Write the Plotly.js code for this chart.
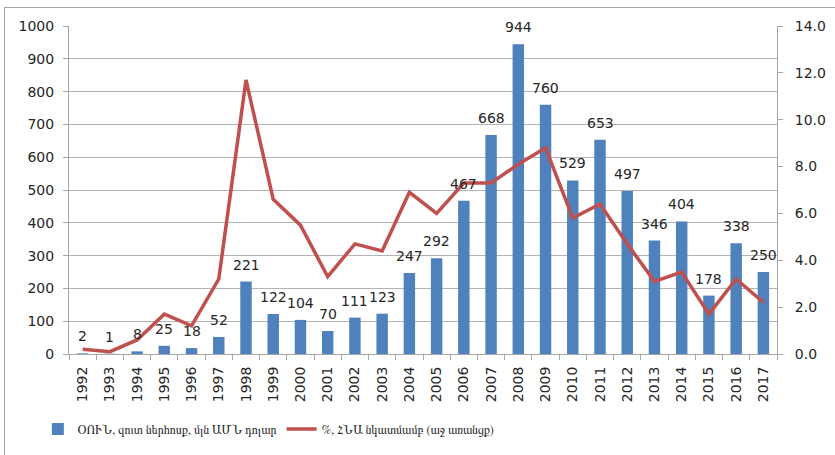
<!DOCTYPE html>
<html>
<head>
<meta charset="utf-8">
<script src="https://cdn.plot.ly/plotly-3.0.1.min.js"></script>
<style>
  html, body { margin: 0; padding: 0; background: #fff; }
  #wrap { position: relative; width: 835px; height: 455px; overflow: hidden; }
  #chart { position: absolute; left: 0; top: 0; width: 835px; height: 455px; }
  #frame { position: absolute; left: 4px; top: 7px; width: 900px; height: 500px;
           border-left: 1px solid #a6a6a6; border-top: 1px solid #a6a6a6; pointer-events: none; }
</style>
</head>
<body>
<div id="wrap">
  <div id="chart"></div>
  <div id="frame"></div>
</div>
<script>
const years = ["1992","1993","1994","1995","1996","1997","1998","1999","2000","2001","2002","2003","2004","2005","2006","2007","2008","2009","2010","2011","2012","2013","2014","2015","2016","2017"];
const fdiNet = [2, 1, 8, 25, 18, 52, 221, 122, 104, 70, 111, 123, 247, 292, 467, 668, 944, 760, 529, 653, 497, 346, 404, 178, 338, 250];
const fdiPctGdp = [0.2, 0.1, 0.6, 1.7, 1.2, 3.2, 11.7, 6.6, 5.5, 3.3, 4.7, 4.4, 6.9, 6.0, 7.3, 7.3, 8.1, 8.8, 5.8, 6.4, 4.7, 3.1, 3.5, 1.7, 3.2, 2.2];
const seriesNames = ["ՕՈՒՆ, զուտ ներհոսք, մլն ԱՄՆ դոլար", "%, ՀՆԱ նկատմամբ (աջ առանցք)"];

const numFont = "DejaVu Sans, sans-serif";
const textColor = "#262626";
const axisGray = "#a6a6a6";

const traces = [
  {
    type: "bar",
    x: years,
    y: fdiNet,
    name: seriesNames[0],
    marker: { color: "#4f81bd" },
    hoverinfo: "x+y"
  },
  {
    type: "scatter",
    mode: "lines",
    x: years,
    y: fdiPctGdp,
    name: seriesNames[1],
    yaxis: "y2",
    line: { color: "#c0504d", width: 3.5 },
    hoverinfo: "x+y"
  }
];

// value labels above the bars (x given as the category's index on the category axis)
const labelAnnotations = fdiNet.map((v, i) => ({
  x: i,
  y: v,
  xref: "x",
  yref: "y",
  text: String(v),
  showarrow: false,
  xanchor: "center",
  yanchor: "bottom",
  yshift: 7,
  font: { family: numFont, size: 14, color: textColor }
}));

const layout = {
  width: 835,
  height: 455,
  margin: { l: 69, r: 58, t: 26, b: 101 },
  paper_bgcolor: "#ffffff",
  plot_bgcolor: "#ffffff",
  font: { family: numFont, size: 14, color: textColor },
  bargap: 0.58,
  showlegend: true,
  legend: {
    orientation: "h",
    x: -0.044, xanchor: "left",
    y: -0.229, yanchor: "middle",
    font: { family: "FreeSerif, DejaVu Serif, serif", size: 12, color: textColor },
    itemwidth: 30,
    traceorder: "normal",
    bgcolor: "rgba(0,0,0,0)"
  },
  annotations: labelAnnotations,
  xaxis: {
    type: "category",
    categoryorder: "array",
    categoryarray: years,
    range: [-0.5, years.length - 0.5],
    tickangle: -90,
    showline: true,
    linecolor: axisGray,
    linewidth: 1,
    ticks: "outside",
    tickson: "boundaries",
    ticklen: 5,
    tickcolor: axisGray,
    ticklabelstandoff: 6,
    showgrid: false,
    tickfont: { family: numFont, size: 14, color: textColor },
    fixedrange: true
  },
  yaxis: {
    range: [0, 1000],
    dtick: 100,
    showline: true,
    linecolor: axisGray,
    ticks: "outside",
    ticklen: 5,
    tickcolor: axisGray,
    ticklabelstandoff: 6,
    showgrid: true,
    gridcolor: "#b4b4b4",
    gridwidth: 1,
    zeroline: false,
    tickfont: { family: numFont, size: 14, color: textColor },
    fixedrange: true
  },
  yaxis2: {
    overlaying: "y",
    side: "right",
    range: [0, 14],
    dtick: 2,
    tickformat: ".1f",
    showline: true,
    linecolor: axisGray,
    ticks: "outside",
    ticklen: 5,
    tickcolor: axisGray,
    ticklabelstandoff: 9,
    showgrid: false,
    zeroline: false,
    tickfont: { family: numFont, size: 14, color: textColor },
    fixedrange: true
  }
};

Plotly.newPlot("chart", traces, layout, { displayModeBar: false, staticPlot: true });
</script>
</body>
</html>
